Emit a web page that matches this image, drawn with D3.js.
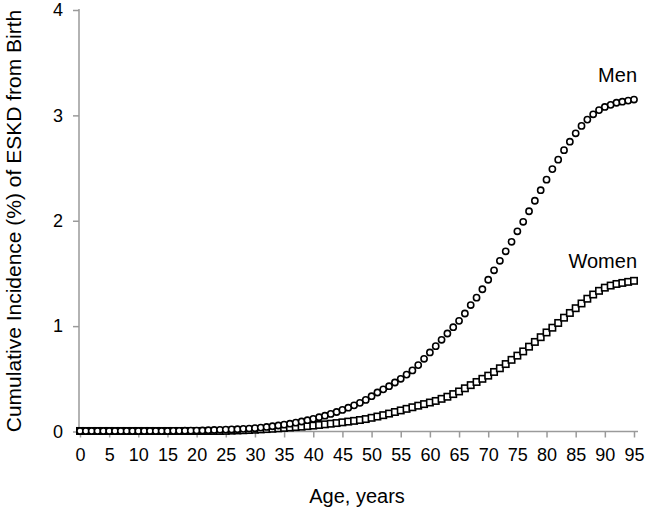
<!DOCTYPE html>
<html><head><meta charset="utf-8">
<script src="https://cdn.jsdelivr.net/npm/d3@7"></script>
<style>body{margin:0;background:#fff}svg{display:block}text{font-family:"Liberation Sans",Arial,sans-serif;fill:#000}</style>
</head><body><svg id="c" width="646" height="508"></svg>
<script>
const ages = d3.range(0, 96);
const men = [
 0.005,0.005,0.005,0.005,0.005,0.005,0.005,0.005,0.005,0.005,
 0.005,0.005,0.005,0.005,0.005,0.005,0.006,0.006,0.007,0.008,
 0.009,0.010,0.012,0.014,0.016,0.018,0.020,0.022,0.025,0.028,
 0.032,0.037,0.043,0.050,0.057,0.065,0.074,0.084,0.095,0.107,
 0.120,0.135,0.150,0.167,0.185,0.205,0.226,0.248,0.272,0.300,
 0.335,0.37,0.40,0.43,0.465,0.50,0.54,0.58,0.63,0.69,
 0.75,0.81,0.87,0.93,0.99,1.05,1.12,1.20,1.27,1.35,
 1.44,1.53,1.62,1.71,1.80,1.90,1.99,2.09,2.19,2.29,
 2.39,2.49,2.58,2.67,2.75,2.83,2.90,2.96,3.01,3.05,
 3.08,3.10,3.12,3.13,3.14,3.15];
const women = [
 0.005,0.005,0.005,0.005,0.005,0.005,0.005,0.005,0.005,0.005,
 0.005,0.005,0.005,0.005,0.005,0.005,0.005,0.005,0.005,0.005,
 0.005,0.005,0.005,0.005,0.005,0.006,0.008,0.010,0.012,0.014,
 0.017,0.020,0.023,0.026,0.030,0.034,0.038,0.042,0.046,0.051,
 0.056,0.062,0.068,0.074,0.080,0.087,0.094,0.101,0.109,0.118,
 0.13,0.142,0.155,0.17,0.185,0.20,0.215,0.23,0.245,0.26,
 0.275,0.29,0.31,0.33,0.355,0.38,0.41,0.44,0.47,0.50,
 0.53,0.565,0.60,0.64,0.68,0.72,0.76,0.805,0.85,0.895,
 0.94,0.985,1.03,1.08,1.125,1.17,1.215,1.26,1.30,1.335,
 1.365,1.385,1.40,1.41,1.42,1.43];
const xTicks = d3.range(0, 96, 5);
const yTicks = [0,1,2,3,4];
const seriesLabels = ["Men","Women"];
const xTitle = "Age, years";
const yTitle = "Cumulative Incidence (%) of ESKD from Birth";

const svg = d3.select("#c");
const x = d3.scaleLinear().domain([0,95]).range([80,634]);
const y = d3.scaleLinear().domain([0,4]).range([431.5,10]);
const axisColor = "#9a9a9a";

const xa = svg.append("g").attr("transform","translate(0,431.5)")
  .call(d3.axisBottom(x).tickValues(xTicks).tickSize(6).tickPadding(11).tickSizeOuter(0));
xa.select(".domain").attr("d","M76,0H638");
const ya = svg.append("g").attr("transform","translate(79,0)")
  .call(d3.axisLeft(y).tickValues(yTicks).tickFormat(d3.format("d")).tickSize(6).tickPadding(10).tickSizeOuter(0));
ya.select(".domain").attr("d","M0,9V433");
[xa,ya].forEach(g=>{
  g.selectAll(".domain").attr("stroke",axisColor).attr("stroke-width",1.5);
  g.selectAll(".tick line").attr("stroke",axisColor).attr("stroke-width",1.5);
  g.selectAll(".tick text").attr("font-size",18).attr("font-family","Liberation Sans, Arial, sans-serif").attr("fill","#000");
});

const s = 6.4;
svg.append("g").selectAll("rect").data(ages).join("rect")
  .attr("x",d=>x(d)-s/2).attr("y",(d,i)=>y(women[i])-s/2)
  .attr("width",s).attr("height",s)
  .attr("fill","#fff").attr("stroke","#000").attr("stroke-width",1.6);
svg.append("g").selectAll("circle").data(ages).join("circle")
  .attr("cx",d=>x(d)).attr("cy",(d,i)=>y(men[i])).attr("r",3.1)
  .attr("fill","#fff").attr("stroke","#000").attr("stroke-width",1.6);

svg.append("text").attr("x",637).attr("y",82).attr("text-anchor","end").attr("font-size",20).text(seriesLabels[0]);
svg.append("text").attr("x",637).attr("y",268).attr("text-anchor","end").attr("font-size",20).text(seriesLabels[1]);

svg.append("text").attr("x",357).attr("y",503).attr("text-anchor","middle").attr("font-size",20).text(xTitle);
svg.append("text").attr("transform","translate(21,221) rotate(-90)").attr("text-anchor","middle").attr("font-size",21).text(yTitle);
</script></body></html>
